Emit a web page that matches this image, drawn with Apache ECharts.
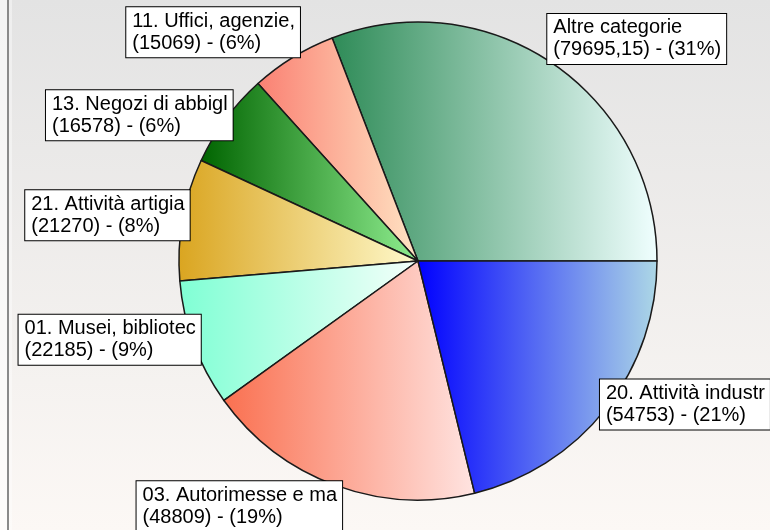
<!DOCTYPE html>
<html><head><meta charset="utf-8">
<script src="https://cdn.jsdelivr.net/npm/echarts@6/dist/echarts.min.js"></script>
<style>html,body{margin:0;padding:0;background:#fff}#c{width:770px;height:530px}</style>
</head><body><div id="c"></div>
<script>
const categories = ['Altre categorie', '11. Uffici, agenzie,', '13. Negozi di abbigl', '21. Attività artigia', '01. Musei, bibliotec', '03. Autorimesse e ma', '20. Attività industr'];
const values = [79695.15, 15069, 16578, 21270, 22185, 48809, 54753];
const colorsFrom = ['#2e8b57', '#fa8072', '#006400', '#daa520', '#7fffd4', '#fa7050', '#0000ff'];
const colorsTo = ['#f0ffff', '#ffe4c4', '#90ee90', '#fffacd', '#f5fffa', '#ffe4e1', '#add8e6'];

const total = values.reduce((a, b) => a + b, 0);
const midAngles = [];
let acc = 0;
values.forEach(v => { const a = v / total * 2 * Math.PI; midAngles.push(acc + a / 2); acc += a; });

function fmtValue(v) { return String(v).replace('.', ','); }

const chart = echarts.init(document.getElementById('c'), null, {renderer: 'canvas'});
chart.setOption({
  animation: false,
  graphic: [
    {type: 'rect', z: -10, silent: true, shape: {x: 0, y: 0, width: 770, height: 530},
     style: {fill: new echarts.graphic.LinearGradient(0, 0, 0, 1, [{offset: 0, color: '#e3e3e3'}, {offset: 1, color: '#fcf8f5'}])}},
    {type: 'rect', z: -9, silent: true, shape: {x: 0, y: 0, width: 7, height: 530}, style: {fill: 'rgba(255,255,255,0.6)'}},
    {type: 'line', z: -9, silent: true, shape: {x1: 8, y1: 0, x2: 8, y2: 530}, style: {stroke: '#8a8a8a', lineWidth: 2}},
    {type: 'rect', z: -9, silent: true, shape: {x: 9, y: 0, width: 3, height: 530}, style: {fill: 'rgba(255,255,255,0.4)'}}
  ],
  series: [{
    type: 'pie',
    center: [418, 261],
    radius: 239,
    startAngle: 0,
    clockwise: false,
    avoidLabelOverlap: false,
    percentPrecision: 0,
    silent: true,
    emphasis: {disabled: true},
    itemStyle: {borderColor: '#1a1a1a', borderWidth: 1.5},
    label: {
      show: true,
      position: 'outside',
      formatter: p => p.name + '\n(' + fmtValue(p.value) + ') - (' + p.percent + '%)',
      fontFamily: 'Liberation Sans, Arial, sans-serif',
      fontSize: 20,
      lineHeight: 22,
      color: '#000',
      backgroundColor: '#fff',
      borderColor: '#000',
      borderWidth: 1,
      padding: [3, 5, 3, 6],
      distanceToLabelLine: 0
    },
    labelLine: {show: false, length: 0, length2: 0},
    labelLayout: function (p) {
      const m = midAngles[p.dataIndex];
      const s = Math.sin(m), c = Math.cos(m);
      const r = p.labelRect;
      let dy = -3;
      if (s > 0.7) dy = -r.height / 2 + 2; else if (s < -0.7) dy = r.height / 2 - 4;
      return {x: r.x + (c >= 0 ? -5 : 8), y: r.y + dy, align: 'left', verticalAlign: 'top'};
    },
    data: categories.map((n, i) => ({
      name: n,
      value: values[i],
      itemStyle: {color: new echarts.graphic.LinearGradient(0, 0, 1, 0, [{offset: 0, color: colorsFrom[i]}, {offset: 1, color: colorsTo[i]}])}
    }))
  }]
});
</script>
</body></html>
